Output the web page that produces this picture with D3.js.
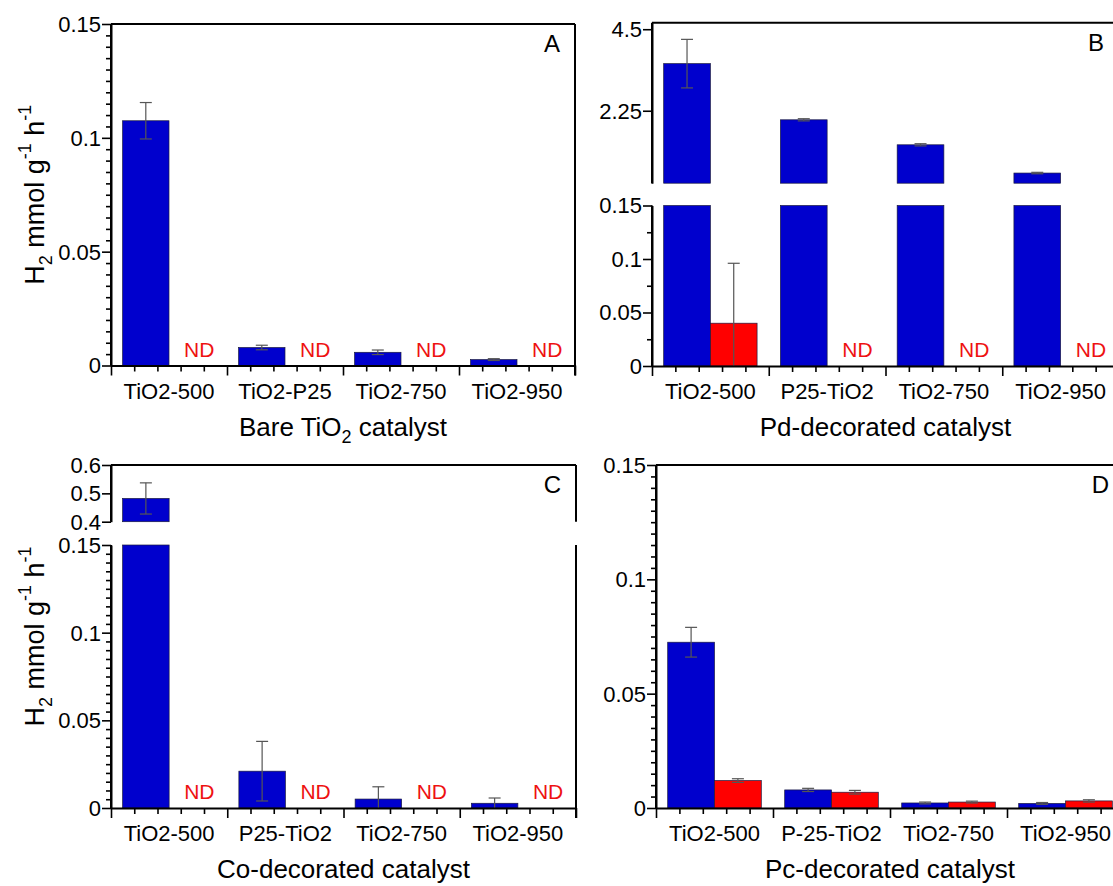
<!DOCTYPE html>
<html><head><meta charset="utf-8">
<script src="https://cdn.jsdelivr.net/npm/d3@7"></script>
<style>
body{margin:0;background:#fff;}
svg{display:block;}
text{font-family:"Liberation Sans",Arial,Helvetica,sans-serif;fill:#000;}
</style>
</head><body>
<svg id="chart" width="1113" height="886"></svg>
<script>
// ---------- data ----------
const series = ["blue", "red"];

const catsA = ["TiO2-500", "TiO2-P25", "TiO2-750", "TiO2-950"];
const blueA = [0.1075, 0.0079, 0.0058, 0.0026];
const blueErrA = [0.008, 0.001, 0.001, 0.0004];
const redA = [null, null, null, null];
const redErrA = [0, 0, 0, 0];

const catsB = ["TiO2-500", "P25-TiO2", "TiO2-750", "TiO2-950"];
const blueB = [3.55, 2.0, 1.31, 0.53];
const blueErrB = [0.67, 0.03, 0.03, 0.02];
const redB = [0.04, null, null, null];
const redErrB = [0.056, 0, 0, 0];

const catsC = ["TiO2-500", "P25-TiO2", "TiO2-750", "TiO2-950"];
const blueC = [0.482, 0.021, 0.0051, 0.0027];
const blueErrC = [0.055, 0.017, 0.007, 0.003];
const redC = [null, null, null, null];
const redErrC = [0, 0, 0, 0];

const catsD = ["TiO2-500", "P-25-TiO2", "TiO2-750", "TiO2-950"];
const blueD = [0.0725, 0.0079, 0.0022, 0.0020];
const blueErrD = [0.0065, 0.0007, 0.0004, 0.0004];
const redD = [0.012, 0.0069, 0.0026, 0.0031];
const redErrD = [0.0008, 0.0008, 0.0004, 0.0005];

const ticksSmall = [0, 0.05, 0.1, 0.15];
const ticksBUpper = [2.25, 4.5];
const ticksCUpper = [0.4, 0.5, 0.6];

const titleA = "Bare TiO|2| catalyst";
const titleB = "Pd-decorated catalyst";
const titleC = "Co-decorated catalyst";
const titleD = "Pc-decorated catalyst";
const ndLabel = "ND";

// ---------- style ----------
const colors = {blue: "#0000cd", red: "#ff0000"};
const ndColor = "#ee1111";
const axisW = 2;
const tickFont = 22, titleFont = 26, letterFont = 24;

const svg = d3.select("#chart");

function styleAxis(g) {
  g.attr("font-size", tickFont).attr("font-family", '"Liberation Sans",Arial,sans-serif');
  g.selectAll("line").attr("stroke", "#000").attr("stroke-width", 1.6);
  g.selectAll("path.domain").attr("stroke", "#000").attr("stroke-width", axisW);
  g.selectAll("text").attr("fill", "#000");
}

function drawPanel(p) {
  const g = svg.append("g");
  const x = d3.scaleBand().domain(p.cats).range(p.xRange).paddingInner(0).paddingOuter(0);
  const sub = d3.scaleBand().domain(series).range([0, x.bandwidth()]).paddingInner(0).paddingOuter(0.25);
  const segs = p.segments.map(s => Object.assign({}, s, {y: d3.scaleLinear().domain(s.domain).range(s.range)}));
  const bottom = segs[segs.length - 1];
  const zeroY = bottom.y(0);

  // bars
  series.forEach((s, si) => {
    const vals = p.values[si], errs = p.errors[si];
    p.cats.forEach((c, i) => {
      const v = vals[i];
      const bx = x(c) + sub(s), bw = sub.bandwidth();
      if (v == null) {
        g.append("text").attr("x", bx + bw / 2 + 7).attr("y", zeroY - 9)
          .attr("text-anchor", "middle").attr("font-size", 21)
          .style("fill", ndColor).text(ndLabel);
        return;
      }
      segs.forEach(seg => {
        if (v <= seg.domain[0]) return;
        const top = seg.y(Math.min(v, seg.domain[1]));
        const bot = seg.y(seg.domain[0]);
        g.append("rect").attr("x", bx).attr("y", top).attr("width", bw).attr("height", bot - top)
          .attr("fill", colors[s]).attr("stroke", "#1a1a40").attr("stroke-width", 0.7);
      });
      const e = errs[i];
      if (e > 0) {
        const seg = segs.find(sg => v >= sg.domain[0] && v <= sg.domain[1]);
        const lo = Math.max(v - e, seg.domain[0]);
        const hi = Math.min(v + e, seg.domain[1]);
        const cx = bx + bw / 2;
        g.append("line").attr("x1", cx).attr("x2", cx).attr("y1", seg.y(lo)).attr("y2", seg.y(hi))
          .attr("stroke", "#555").attr("stroke-width", 1.2);
        g.append("line").attr("x1", cx - 6).attr("x2", cx + 6).attr("y1", seg.y(hi)).attr("y2", seg.y(hi))
          .attr("stroke", "#555").attr("stroke-width", 1.2);
        if (v - e > seg.domain[0]) {
          g.append("line").attr("x1", cx - 6).attr("x2", cx + 6).attr("y1", seg.y(lo)).attr("y2", seg.y(lo))
            .attr("stroke", "#555").attr("stroke-width", 1.2);
        }
      }
    });
  });

  // y axes per segment
  const x0 = p.xRange[0], x1 = p.xRange[1];
  segs.forEach((seg, k) => {
    const ax = g.append("g").attr("transform", `translate(${x0},0)`)
      .call(d3.axisLeft(seg.y).tickValues(seg.major).tickSize(9).tickSizeOuter(0).tickPadding(1)
        .tickFormat(d3.format("~g")));
    styleAxis(ax);
    ax.selectAll("text").attr("dy", "0.34em");
    if (seg.minorStep) {
      const minors = d3.range(Math.round((seg.domain[1] - seg.domain[0]) / seg.minorStep) + 1)
        .map(j => seg.domain[0] + j * seg.minorStep)
        .filter(v => !seg.major.some(m => Math.abs(m - v) < 1e-9));
      const mx = g.append("g").attr("transform", `translate(${x0},0)`)
        .call(d3.axisLeft(seg.y).tickValues(minors).tickSize(5).tickSizeOuter(0).tickFormat(""));
      mx.select("path.domain").remove();
      styleAxis(mx);
    }
    g.append("line").attr("x1", x0).attr("x2", x0).attr("y1", seg.range[1]).attr("y2", seg.range[0])
      .attr("stroke", "#000").attr("stroke-width", axisW);
    g.append("line").attr("x1", x1).attr("x2", x1).attr("y1", seg.range[1])
      .attr("y2", k === segs.length - 1 ? seg.range[0] + 10 : seg.range[0])
      .attr("stroke", "#000").attr("stroke-width", axisW);
  });
  // top border
  g.append("line").attr("x1", x0).attr("x2", x1).attr("y1", segs[0].range[1]).attr("y2", segs[0].range[1])
    .attr("stroke", "#000").attr("stroke-width", axisW);

  // x axis
  const xl = d3.scaleLinear().domain([0, p.cats.length]).range(p.xRange);
  const xa = g.append("g").attr("transform", `translate(0,${zeroY})`)
    .call(d3.axisBottom(xl).tickValues(d3.range(p.cats.length + 1)).tickSize(10).tickSizeOuter(0).tickFormat(""));
  styleAxis(xa);
  const minorX = d3.range(p.cats.length * 5 + 1).filter(j => j % 5 !== 0).map(j => j / 5);
  const xm = g.append("g").attr("transform", `translate(0,${zeroY})`)
    .call(d3.axisBottom(xl).tickValues(minorX).tickSize(6).tickSizeOuter(0).tickFormat(""));
  xm.select("path.domain").remove();
  styleAxis(xm);

  // category labels
  g.selectAll("text.cat").data(p.cats).enter().append("text").attr("class", "cat")
    .attr("x", c => x(c) + x.bandwidth() / 2).attr("y", zeroY + 33)
    .attr("text-anchor", "middle").attr("font-size", tickFont).text(c => c);

  // x title (subscript marked by |..|)
  const t = g.append("text").attr("x", (x0 + x1) / 2).attr("y", zeroY + 70)
    .attr("text-anchor", "middle").attr("font-size", titleFont);
  const parts = p.title.split("|");
  parts.forEach((part, j) => {
    if (j % 2 === 1) {
      t.append("tspan").attr("font-size", 18).attr("dy", 7).text(part);
    } else {
      t.append("tspan").attr("dy", j > 0 ? -7 : 0).text(part);
    }
  });

  // panel letter
  g.append("text").attr("x", x1 - 15).attr("y", segs[0].range[1] + 28)
    .attr("text-anchor", "end").attr("font-size", letterFont).text(p.letter);

  // y title
  if (p.yTitle) {
    const yc = (segs[0].range[1] + zeroY) / 2;
    const yt = g.append("text").attr("transform", `translate(44,${yc}) rotate(-90)`)
      .attr("text-anchor", "middle").attr("font-size", 27);
    yt.append("tspan").text("H");
    yt.append("tspan").attr("font-size", 18).attr("dy", 8).text("2");
    yt.append("tspan").attr("dy", -8).text(" mmol g");
    yt.append("tspan").attr("font-size", 18).attr("dy", -13).text("-1");
    yt.append("tspan").attr("dy", 13).text(" h");
    yt.append("tspan").attr("font-size", 18).attr("dy", -13).text("-1");
  }
}

drawPanel({
  cats: catsA, values: [blueA, redA], errors: [blueErrA, redErrA], xRange: [111, 575],
  segments: [{domain: [0, 0.15], range: [365.5, 24], major: ticksSmall, minorStep: 0.005}],
  title: titleA, letter: "A", yTitle: true
});
drawPanel({
  cats: catsB, values: [blueB, redB], errors: [blueErrB, redErrB], xRange: [652, 1119],
  segments: [
    {domain: [0.25, 4.68], range: [183.2, 22.7], major: ticksBUpper, minorStep: null},
    {domain: [0, 0.15], range: [366, 205.5], major: ticksSmall, minorStep: 0.025}
  ],
  title: titleB, letter: "B", yTitle: false
});
drawPanel({
  cats: catsC, values: [blueC, redC], errors: [blueErrC, redErrC], xRange: [111, 576],
  segments: [
    {domain: [0.4, 0.6], range: [521.7, 465], major: ticksCUpper, minorStep: null},
    {domain: [0, 0.15], range: [808, 545], major: ticksSmall, minorStep: 0.005}
  ],
  title: titleC, letter: "C", yTitle: true
});
drawPanel({
  cats: catsD, values: [blueD, redD], errors: [blueErrD, redErrD], xRange: [656, 1124],
  segments: [{domain: [0, 0.15], range: [808, 465], major: ticksSmall, minorStep: 0.005}],
  title: titleD, letter: "D", yTitle: false
});
</script>
</body></html>
